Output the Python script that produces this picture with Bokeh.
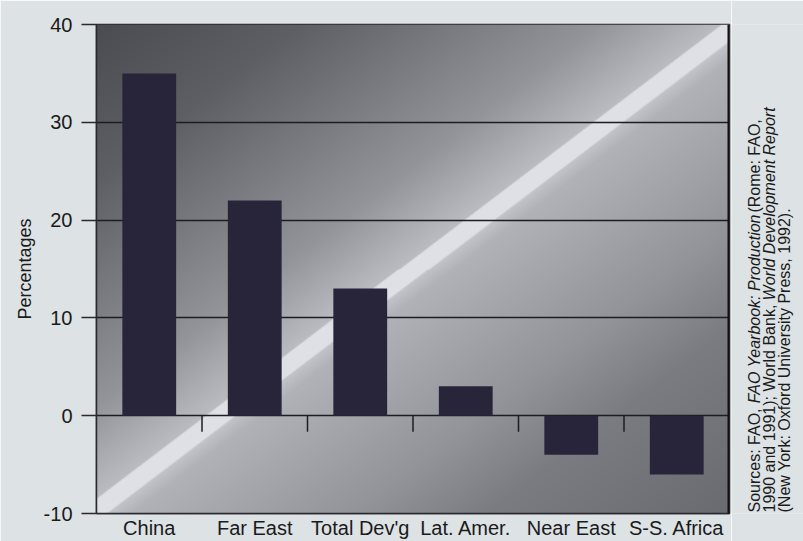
import numpy as np
from bokeh.plotting import figure
from bokeh.layouts import row
from bokeh.models import FactorRange, Range1d, Span, FixedTicker
from bokeh.core.properties import value
from bokeh.embed import file_html
from bokeh.resources import INLINE

# ---------------- data ----------------
categories = ["China", "Far East", "Total Dev'g", "Lat. Amer.", "Near East", "S-S. Africa"]
values = [35, 22, 13, 3, -4, -6]
y_ticks = [-10, 0, 10, 20, 30, 40]
y_tick_labels = ["-10", "0", "10", "20", "30", "40"]
y_axis_label = "Percentages"
source_lines = [
    [("Sources: FAO, ", "normal"), ("FAO Yearbook: Production", "italic"), (" (Rome: FAO,", "normal")],
    [("1990 and 1991); World Bank, ", "normal"), ("World Development Report", "italic")],
    [("(New York: Oxford University Press, 1992).", "normal")],
]

# ---------------- style ----------------
FONT = "Liberation Sans"
PAGE_BG = "#dde2e5"
BAR_COLOR = "#28243a"
INK = "#1a1a1a"
LINE = "#2a2a2e"

WIDTH, HEIGHT = 803, 541
NOTE_W = 72
MAIN_W = WIDTH - NOTE_W
BORDER_L, BORDER_R, BORDER_T, BORDER_B = 96, 2, 24, 27
FRAME_W = MAIN_W - BORDER_L - BORDER_R
FRAME_H = HEIGHT - BORDER_T - BORDER_B

ymin, ymax = y_ticks[0], y_ticks[-1]
n = len(categories)

p = figure(
    width=MAIN_W, height=HEIGHT, title=None,
    x_range=FactorRange(*categories, range_padding=0),
    y_range=Range1d(ymin, ymax),
    output_backend="svg", toolbar_location=None,
    min_border_left=BORDER_L, min_border_right=BORDER_R,
    min_border_top=BORDER_T, min_border_bottom=BORDER_B,
    border_fill_color=PAGE_BG, background_fill_color=PAGE_BG,
    outline_line_color=LINE, outline_line_width=1.5,
)


# ---------------- gradient backdrop with light diagonal stripe ----------------
def backdrop(w, h):
    xs = np.arange(w) + 0.5
    ys = np.arange(h) + 0.5
    X, Y = np.meshgrid(xs, ys)          # frame pixels, origin top-left
    slope = 0.76
    x_line = 14 + (476 - Y) / slope
    d = (X - x_line) * slope / np.hypot(1.0, slope)
    half = 9.0
    up = np.interp(-d - half, [0, 75, 255, 420], [190, 150, 97, 72])
    low = np.interp(d - half, [0, 15, 150, 230, 420], [198, 180, 150, 126, 104])
    side = np.where(d < 0, up, low)
    s = np.clip(half + 0.5 - np.abs(d), 0, 1)
    c = s * 226.0 + (1 - s) * side
    img = np.zeros((h, w), dtype=np.uint32)
    v = img.view(dtype=np.uint8).reshape((h, w, 4))
    v[..., 0] = np.clip(c - 3, 0, 255).astype(np.uint8)
    v[..., 1] = np.clip(c - 2, 0, 255).astype(np.uint8)
    v[..., 2] = np.clip(c + 4, 0, 255).astype(np.uint8)
    v[..., 3] = 255
    return np.ascontiguousarray(np.flipud(img))


bg = p.image_rgba(image=[backdrop(FRAME_W, FRAME_H)], x=0, y=ymin, dw=n, dh=ymax - ymin)
bg.level = "image"

# ---------------- grid ----------------
p.xgrid.visible = False
p.ygrid.ticker = FixedTicker(ticks=y_ticks)
p.ygrid.grid_line_color = "#1c1c22"
p.ygrid.grid_line_width = 1.4

# ---------------- bars ----------------
p.vbar(x=categories, top=values, bottom=0, width=0.51,
       fill_color=BAR_COLOR, line_color=None)

# category boundary ticks hanging from the zero line
bounds = list(range(1, n))
tick_len = 16 * (ymax - ymin) / FRAME_H
p.segment(x0=bounds, y0=[0] * len(bounds), x1=bounds, y1=[-tick_len] * len(bounds),
          line_color="#1c1c22", line_width=1.5)

# thick right border
p.add_layout(Span(location=n, dimension="height", line_color="#111111", line_width=4))

# ---------------- axes ----------------
ya = p.yaxis[0]
ya.ticker = FixedTicker(ticks=y_ticks)
ya.major_label_overrides = {t: lab for t, lab in zip(y_ticks, y_tick_labels)}
ya.major_label_text_font = FONT
ya.major_label_text_font_size = "20px"
ya.major_label_text_color = INK
ya.major_tick_out = 15
ya.major_tick_in = 0
ya.major_tick_line_width = 1.5
ya.major_tick_line_color = LINE
ya.minor_tick_line_color = None
ya.axis_line_color = LINE
ya.axis_line_width = 1.5
ya.major_label_standoff = 9
ya.axis_label = y_axis_label
ya.axis_label_text_font = FONT
ya.axis_label_text_font_size = "18px"
ya.axis_label_text_font_style = "normal"
ya.axis_label_text_color = INK
ya.axis_label_standoff = 6

xa = p.xaxis[0]
xa.major_label_text_font = FONT
xa.major_label_text_font_size = "20px"
xa.major_label_text_color = INK
xa.major_tick_line_color = None
xa.major_tick_out = 0
xa.major_tick_in = 0
xa.minor_tick_line_color = None
xa.axis_line_color = LINE
xa.axis_line_width = 1.5
xa.major_label_standoff = 3

# ---------------- rotated source note (separate narrow panel) ----------------
ARIAL = {" ": 278, "(": 333, ")": 333, ",": 278, ".": 278, ":": 278, ";": 278,
         "A": 667, "B": 667, "D": 722, "F": 611, "N": 722, "O": 778, "P": 667,
         "R": 722, "S": 667, "U": 722, "W": 944, "Y": 667,
         "a": 556, "b": 556, "c": 500, "d": 556, "e": 556, "f": 278, "i": 222,
         "k": 500, "l": 222, "m": 833, "n": 556, "o": 556, "p": 556, "r": 333,
         "s": 500, "t": 278, "u": 556, "v": 500, "w": 722, "x": 500, "y": 500}


def text_width(s, size):
    return sum(ARIAL.get(ch, 556) for ch in s) * size / 1000.0


NOTE_SIZE = 16
note_cols = [23, 38, 53]        # panel pixels from its left edge
note_start = BORDER_B + 1       # canvas pixels from the bottom (frames of the row are aligned)

nx, ny, ntext, nstyle = [], [], [], []
for line, cx in zip(source_lines, note_cols):
    cum = 0.0
    for seg, style in line:
        nx.append(cx)
        ny.append(note_start + cum)
        ntext.append(seg)
        nstyle.append(style)
        cum += text_width(seg, NOTE_SIZE)

q = figure(
    width=NOTE_W, height=HEIGHT, title=None,
    x_range=Range1d(0, NOTE_W), y_range=Range1d(BORDER_B, HEIGHT - BORDER_T),
    x_axis_type=None, y_axis_type=None,
    output_backend="svg", toolbar_location=None,
    min_border_left=0, min_border_right=0,
    min_border_top=BORDER_T, min_border_bottom=BORDER_B,
    border_fill_color=PAGE_BG, background_fill_color=PAGE_BG,
    outline_line_color=None,
)
q.xgrid.visible = False
q.ygrid.visible = False
q.text(x=nx, y=ny, text=ntext, angle=np.pi / 2, text_align="left", text_baseline="middle",
       text_font=value(FONT), text_font_size=value(f"{NOTE_SIZE}px"),
       text_font_style=nstyle, text_color=INK)

layout = row(p, q, spacing=0)
open("out.html", "w").write(file_html(layout, INLINE))
